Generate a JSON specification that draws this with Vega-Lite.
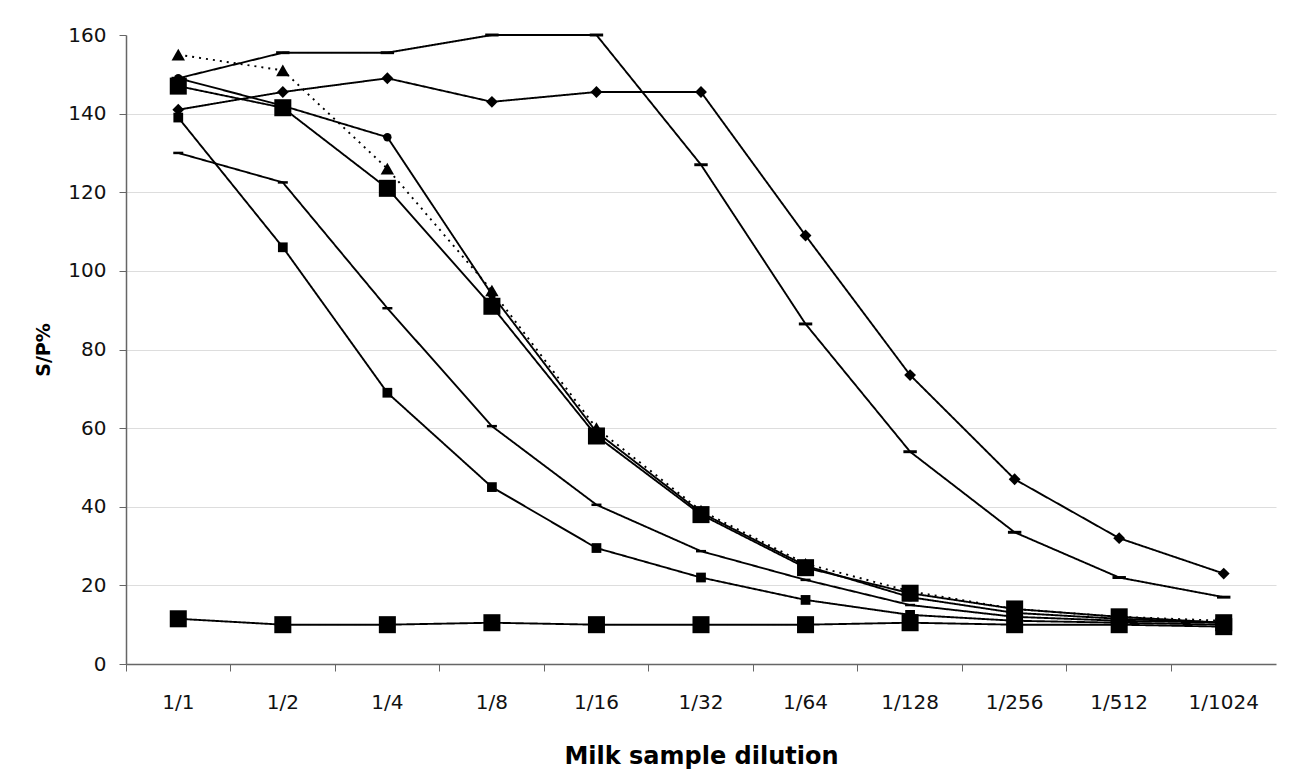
{
  "$schema": "https://vega.github.io/schema/vega-lite/v6.json",
  "autosize": {"type": "none"},
  "padding": {"left": 126, "top": 35, "right": 15, "bottom": 119},
  "width": 1150,
  "height": 629,
  "background": "white",
  "config": {
    "view": {"stroke": null},
    "font": "DejaVu Sans"
  },
  "data": {
    "values": [
      {"s": "A", "d": "1/1", "v": 141}, {"s": "A", "d": "1/2", "v": 145.5}, {"s": "A", "d": "1/4", "v": 149}, {"s": "A", "d": "1/8", "v": 143}, {"s": "A", "d": "1/16", "v": 145.5}, {"s": "A", "d": "1/32", "v": 145.5}, {"s": "A", "d": "1/64", "v": 109}, {"s": "A", "d": "1/128", "v": 73.5}, {"s": "A", "d": "1/256", "v": 47}, {"s": "A", "d": "1/512", "v": 32}, {"s": "A", "d": "1/1024", "v": 23},
      {"s": "B", "d": "1/1", "v": 149}, {"s": "B", "d": "1/2", "v": 155.5}, {"s": "B", "d": "1/4", "v": 155.5}, {"s": "B", "d": "1/8", "v": 160}, {"s": "B", "d": "1/16", "v": 160}, {"s": "B", "d": "1/32", "v": 127}, {"s": "B", "d": "1/64", "v": 86.5}, {"s": "B", "d": "1/128", "v": 54}, {"s": "B", "d": "1/256", "v": 33.5}, {"s": "B", "d": "1/512", "v": 22}, {"s": "B", "d": "1/1024", "v": 17},
      {"s": "C", "d": "1/1", "v": 155}, {"s": "C", "d": "1/2", "v": 151}, {"s": "C", "d": "1/4", "v": 126}, {"s": "C", "d": "1/8", "v": 95}, {"s": "C", "d": "1/16", "v": 60}, {"s": "C", "d": "1/32", "v": 39}, {"s": "C", "d": "1/64", "v": 25.5}, {"s": "C", "d": "1/128", "v": 18.5}, {"s": "C", "d": "1/256", "v": 14}, {"s": "C", "d": "1/512", "v": 12}, {"s": "C", "d": "1/1024", "v": 11},
      {"s": "E", "d": "1/1", "v": 149}, {"s": "E", "d": "1/2", "v": 142}, {"s": "E", "d": "1/4", "v": 134}, {"s": "E", "d": "1/8", "v": 94}, {"s": "E", "d": "1/16", "v": 59}, {"s": "E", "d": "1/32", "v": 38.5}, {"s": "E", "d": "1/64", "v": 25}, {"s": "E", "d": "1/128", "v": 17}, {"s": "E", "d": "1/256", "v": 13}, {"s": "E", "d": "1/512", "v": 11.5}, {"s": "E", "d": "1/1024", "v": 10.5},
      {"s": "F", "d": "1/1", "v": 139}, {"s": "F", "d": "1/2", "v": 106}, {"s": "F", "d": "1/4", "v": 69}, {"s": "F", "d": "1/8", "v": 45}, {"s": "F", "d": "1/16", "v": 29.5}, {"s": "F", "d": "1/32", "v": 22}, {"s": "F", "d": "1/64", "v": 16.3}, {"s": "F", "d": "1/128", "v": 12.5}, {"s": "F", "d": "1/256", "v": 11}, {"s": "F", "d": "1/512", "v": 10.5}, {"s": "F", "d": "1/1024", "v": 10},
      {"s": "G", "d": "1/1", "v": 130}, {"s": "G", "d": "1/2", "v": 122.5}, {"s": "G", "d": "1/4", "v": 90.5}, {"s": "G", "d": "1/8", "v": 60.5}, {"s": "G", "d": "1/16", "v": 40.5}, {"s": "G", "d": "1/32", "v": 28.7}, {"s": "G", "d": "1/64", "v": 21.4}, {"s": "G", "d": "1/128", "v": 15}, {"s": "G", "d": "1/256", "v": 12}, {"s": "G", "d": "1/512", "v": 11}, {"s": "G", "d": "1/1024", "v": 10.5},
      {"s": "D", "d": "1/1", "v": 147}, {"s": "D", "d": "1/2", "v": 141.5}, {"s": "D", "d": "1/4", "v": 121}, {"s": "D", "d": "1/8", "v": 91}, {"s": "D", "d": "1/16", "v": 58}, {"s": "D", "d": "1/32", "v": 38}, {"s": "D", "d": "1/64", "v": 24.5}, {"s": "D", "d": "1/128", "v": 18}, {"s": "D", "d": "1/256", "v": 14}, {"s": "D", "d": "1/512", "v": 12}, {"s": "D", "d": "1/1024", "v": 10.5},
      {"s": "H", "d": "1/1", "v": 11.5}, {"s": "H", "d": "1/2", "v": 10}, {"s": "H", "d": "1/4", "v": 10}, {"s": "H", "d": "1/8", "v": 10.5}, {"s": "H", "d": "1/16", "v": 10}, {"s": "H", "d": "1/32", "v": 10}, {"s": "H", "d": "1/64", "v": 10}, {"s": "H", "d": "1/128", "v": 10.5}, {"s": "H", "d": "1/256", "v": 10}, {"s": "H", "d": "1/512", "v": 10}, {"s": "H", "d": "1/1024", "v": 9.5}
    ]
  },
  "encoding": {
    "x": {
      "field": "d",
      "type": "ordinal",
      "sort": ["1/1", "1/2", "1/4", "1/8", "1/16", "1/32", "1/64", "1/128", "1/256", "1/512", "1/1024"],
      "scale": {"type": "band", "paddingInner": 0, "paddingOuter": 0},
      "axis": {
        "title": "Milk sample dilution",
        "titleFont": "DejaVu Sans",
        "titleFontSize": 24,
        "titleFontWeight": "bold",
        "titleColor": "black",
        "titlePadding": 32,
        "labelAngle": 0,
        "labelFontSize": 20,
        "labelColor": "#111",
        "labelPadding": 21,
        "bandPosition": 0,
        "tickSize": 7,
        "tickColor": "#666",
        "domainColor": "#666",
        "domainWidth": 1.5,
        "grid": false
      }
    },
    "y": {
      "field": "v",
      "type": "quantitative",
      "scale": {"domain": [0, 160], "nice": false},
      "axis": {
        "title": "S/P%",
        "titleFont": "DejaVu Sans",
        "titleFontSize": 19,
        "titleFontWeight": "bold",
        "titleColor": "black",
        "titlePadding": 14,
        "values": [0, 20, 40, 60, 80, 100, 120, 140, 160],
        "labelFontSize": 20,
        "labelColor": "#111",
        "labelPadding": 13,
        "tickSize": 7,
        "tickColor": "#666",
        "domainColor": "#666",
        "domainWidth": 1.5,
        "grid": true,
        "gridColor": "#dddddd",
        "gridOpacity": {"condition": {"test": "datum.value == 160 || datum.value == 0", "value": 0}, "value": 1}
      }
    }
  },
  "layer": [
    {
      "mark": {"type": "line", "color": "black", "strokeWidth": 1.9},
      "encoding": {
        "detail": {"field": "s"},
        "strokeDash": {
          "field": "s",
          "type": "nominal",
          "scale": {"domain": ["A", "B", "C", "D", "E", "F", "G", "H"], "range": [[1, 0], [1, 0], [2, 5], [1, 0], [1, 0], [1, 0], [1, 0], [1, 0]]},
          "legend": null
        }
      }
    },
    {
      "mark": {"type": "point", "filled": true, "color": "black", "opacity": 1},
      "encoding": {
        "shape": {
          "field": "s",
          "type": "nominal",
          "scale": {"domain": ["A", "B", "C", "D", "E", "F", "G", "H"], "range": ["diamond", "M-1,-0.22H1V0.22H-1Z", "triangle-up", "square", "circle", "square", "M-1,-0.25H1V0.25H-1Z", "square"]},
          "legend": null
        },
        "size": {
          "field": "s",
          "type": "nominal",
          "scale": {"type": "ordinal", "domain": ["A", "B", "C", "D", "E", "F", "G", "H"], "range": [140, 180, 180, 290, 70, 95, 100, 290]},
          "legend": null
        }
      }
    }
  ]
}
